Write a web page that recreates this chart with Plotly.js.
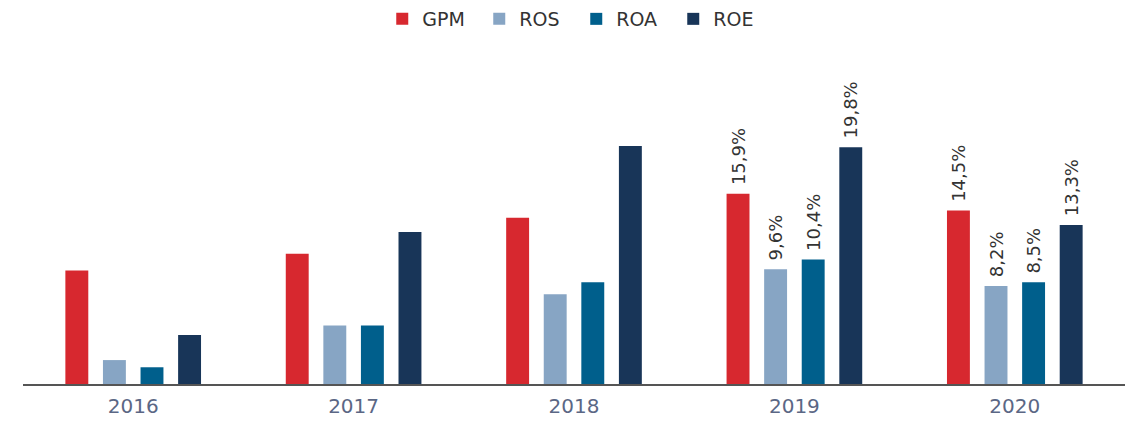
<!DOCTYPE html>
<html>
<head>
<meta charset="utf-8">
<script src="https://cdn.plot.ly/plotly-3.0.1.min.js"></script>
<style>html,body{margin:0;padding:0;background:#fff;}#chart{width:1127px;height:425px;}</style>
</head>
<body>
<div id="chart"></div>
<script>
const years = ['2016', '2017', '2018', '2019', '2020'];
const gpm = [9.5, 10.9, 13.9, 15.9, 14.5];
const ros = [2.0, 4.9, 7.5, 9.6, 8.2];
const roa = [1.4, 4.9, 8.5, 10.4, 8.5];
const roe = [4.1, 12.7, 19.9, 19.8, 13.3];
const labeledYears = ['2019', '2020'];

const seriesNames = ['GPM', 'ROS', 'ROA', 'ROE'];
const seriesColors = ['#d7282f', '#87a5c4', '#005f8c', '#183558'];
const seriesValues = [gpm, ros, roa, roe];

function fmt(v) { return '\u00A0' + v.toFixed(1).replace('.', ',') + '%'; }

const traces = seriesValues.map((vals, k) => ({
  type: 'bar',
  name: seriesNames[k],
  x: years,
  y: vals,
  marker: { color: seriesColors[k] },
  text: vals.map((v, i) => labeledYears.includes(years[i]) ? fmt(v) : ''),
  textposition: 'outside',
  textangle: -90,
  constraintext: 'none',
  cliponaxis: false,
  textfont: { family: 'DejaVu Sans, sans-serif', size: 18, color: '#333333' },
  hoverinfo: 'x+y'
}));

const layout = {
  width: 1127,
  height: 425,
  margin: { l: 23, r: 2, t: 85, b: 41 },
  paper_bgcolor: '#ffffff',
  plot_bgcolor: '#ffffff',
  barmode: 'group',
  bargap: 0.318,
  bargroupgap: 0.39,
  showlegend: true,
  legend: {
    orientation: 'h',
    x: 0.326, xanchor: 'left',
    y: 1, yref: 'container', yanchor: 'top',
    font: { family: 'DejaVu Sans, sans-serif', size: 19, color: '#333333' },
    itemwidth: 30,
    entrywidth: 52,
    entrywidthmode: 'pixels',
    traceorder: 'normal'
  },
  xaxis: {
    type: 'category',
    range: [-0.5, 4.5],
    showline: true,
    linecolor: '#555555',
    linewidth: 2,
    ticks: '',
    ticklabelstandoff: 3,
    showgrid: false,
    tickfont: { family: 'DejaVu Sans, sans-serif', size: 20, color: '#5b6785' }
  },
  yaxis: {
    range: [0, 25],
    visible: false,
    showgrid: false,
    zeroline: false
  }
};

Plotly.newPlot('chart', traces, layout, { displayModeBar: false, staticPlot: true });
</script>
</body>
</html>
